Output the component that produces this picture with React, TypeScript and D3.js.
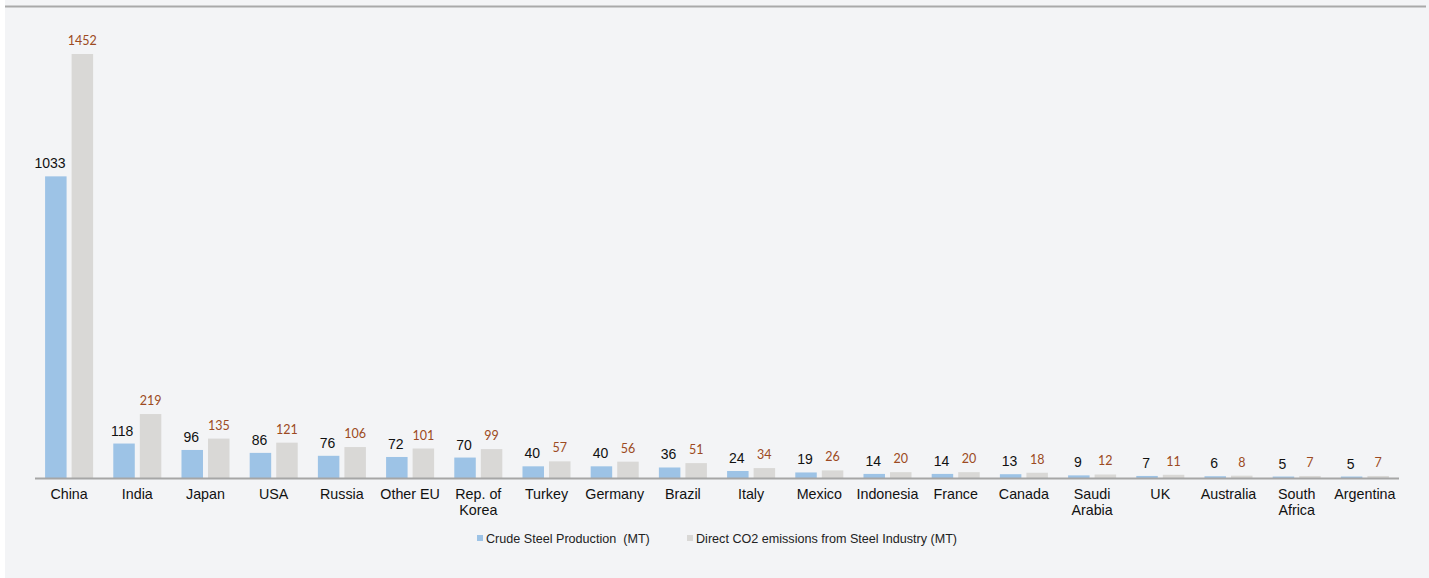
import React from "react";
import * as d3 from "d3";

const countries = [
  "China", "India", "Japan", "USA", "Russia", "Other EU", "Rep. of|Korea", "Turkey",
  "Germany", "Brazil", "Italy", "Mexico", "Indonesia", "France", "Canada",
  "Saudi|Arabia", "UK", "Australia", "South|Africa", "Argentina",
];
const steelProduction = [1033, 118, 96, 86, 76, 72, 70, 40, 40, 36, 24, 19, 14, 14, 13, 9, 7, 6, 5, 5];
const co2Emissions = [1452, 219, 135, 121, 106, 101, 99, 57, 56, 51, 34, 26, 20, 20, 18, 12, 11, 8, 7, 7];
const seriesNames = ["Crude Steel Production  (MT)", "Direct CO2 emissions from Steel Industry (MT)"];

const W = 1429;
const H = 578;
const BLUE = "#9dc3e6";
const GRAY = "#d9d8d6";
const BROWN = "#9c4a22";
const SANS = "Liberation Sans, Arial, sans-serif";

export default function App() {
  const baseY = 478;
  const x = d3.scaleBand<string>().domain(countries).range([35, 1399]).paddingInner(0).paddingOuter(0);
  const inner = d3.scaleBand<string>().domain(["steel", "co2"]).range([0, x.bandwidth()]).paddingInner(0.19).paddingOuter(0.38);
  const y = d3.scaleLinear().domain([0, 1452]).range([baseY, 54]);

  return (
    <svg width={W} height={H} style={{ position: "absolute", left: 0, top: 0 }}>
      <rect x={5} y={0} width={W - 5} height={H} fill="#f3f4f6" />
      <line x1={5} x2={1426} y1={6.5} y2={6.5} stroke="#a9a9a9" strokeWidth={2} />
      {countries.map((c, i) => {
        const x0 = x(c)!;
        const bx = x0 + inner("steel")!;
        const gx = x0 + inner("co2")!;
        const bw = inner.bandwidth();
        const sy = y(steelProduction[i]);
        const gy = y(co2Emissions[i]);
        const lines = c.split("|");
        // keep the steel label clear of the neighbouring emissions bar
        const labelHalf = String(steelProduction[i]).length * 3.9;
        const lx = Math.min(bx + bw / 2 - 1, gx - 6 - labelHalf);
        return (
          <g key={c}>
            <rect x={bx} y={sy} width={bw} height={baseY - sy} fill={BLUE} />
            <rect x={gx} y={gy} width={bw} height={baseY - gy} fill={GRAY} />
            <text x={lx} y={sy - 8} textAnchor="middle" fontFamily={SANS} fontSize={14} fill="#111">
              {steelProduction[i]}
            </text>
            <text x={gx + bw / 2} y={gy - 9} textAnchor="middle" fontFamily="Lato, Open Sans, sans-serif" fontSize={12.5} fill={BROWN}>
              {co2Emissions[i]}
            </text>
            {lines.map((l, k) => (
              <text key={k} x={x0 + x.bandwidth() / 2} y={499 + k * 16} textAnchor="middle" fontFamily={SANS} fontSize={14.3} fill="#111">
                {l}
              </text>
            ))}
          </g>
        );
      })}
      <line x1={35} x2={1399} y1={baseY + 0.5} y2={baseY + 0.5} stroke="#a6a6a6" strokeWidth={2} />
      <g fontFamily={SANS} fontSize={12.6} fill="#222" style={{ whiteSpace: "pre" }}>
        <rect x={477} y={535} width={6} height={6} fill={BLUE} />
        <text x={486} y={542.5} xmlSpace="preserve">{seriesNames[0]}</text>
        <rect x={687} y={535} width={6} height={6} fill={GRAY} />
        <text x={696} y={542.5}>{seriesNames[1]}</text>
      </g>
    </svg>
  );
}
